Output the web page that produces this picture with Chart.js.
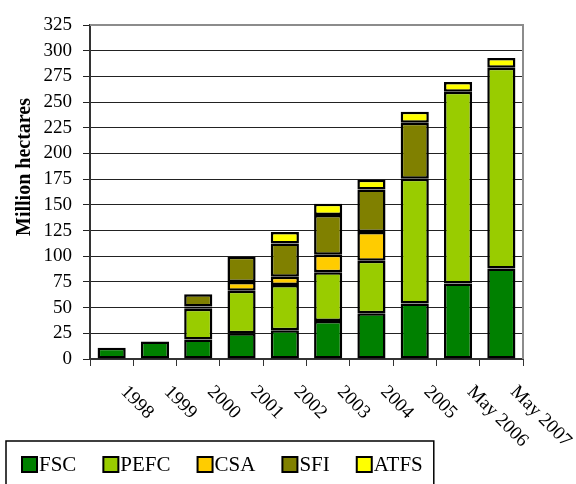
<!DOCTYPE html>
<html>
<head>
<meta charset="utf-8">
<script src="https://cdn.jsdelivr.net/npm/chart.js@4/dist/chart.umd.min.js"></script>
<style>
  body { margin: 0; background: #fff; }
</style>
</head>
<body>
<canvas id="myChart" width="576" height="484"></canvas>
<script>
const years = ["1998", "1999", "2000", "2001", "2002", "2003", "2004", "2005", "May 2006", "May 2007"];
const fsc  = [11, 17, 19, 25, 28, 37, 44.5, 54, 73.5, 88];
const pefc = [null, null, 30, 41.5, 44, 47.5, 51, 121.5, 186.5, 195.5];
const csa  = [null, null, 2, 8.5, 8, 17, 28, null, null, null];
const sfi  = [null, null, 12, 24.5, 32.5, 38.5, 41.5, 54.5, null, null];
const atfs = [null, null, null, null, 11, 11, 9.5, 10.5, 9.5, 9.5];
const yTicks = [0, 25, 50, 75, 100, 125, 150, 175, 200, 225, 250, 275, 300, 325];

const serif = "'Liberation Serif', 'DejaVu Serif', serif";

// plot border, rotated year labels, y title and boxed legend
const extras = {
  id: "extras",
  beforeDatasetsDraw(chart) {
    const ctx = chart.ctx, a = chart.chartArea;
    ctx.save();
    ctx.strokeStyle = "#8c8c8c";
    ctx.lineWidth = 2;
    ctx.beginPath();
    ctx.moveTo(a.left, a.top);
    ctx.lineTo(a.right, a.top);
    ctx.lineTo(a.right, a.bottom);
    ctx.stroke();
    ctx.restore();
  },
  afterDraw(chart) {
    const ctx = chart.ctx, a = chart.chartArea, xs = chart.scales.x;
    ctx.save();
    ctx.fillStyle = "#000";

    // x labels, going down to the right
    ctx.font = "19px " + serif;
    ctx.textAlign = "left";
    ctx.textBaseline = "middle";
    years.forEach((lab, i) => {
      ctx.save();
      ctx.translate(xs.getPixelForTick(i) + 12, a.bottom + 30);
      ctx.rotate(Math.PI / 4);
      ctx.fillText(lab, 0, 0);
      ctx.restore();
    });

    // y title
    ctx.save();
    ctx.font = "bold 20px " + serif;
    ctx.textAlign = "center";
    ctx.translate(25, 167);
    ctx.rotate(-Math.PI / 2);
    ctx.fillText("Million hectares", 0, 0);
    ctx.restore();

    // legend
    ctx.font = "21px " + serif;
    ctx.textBaseline = "middle";
    let x = 22;
    const y = 457, box = 15, gap = 27;
    chart.data.datasets.forEach(ds => {
      ctx.fillStyle = ds.backgroundColor;
      ctx.fillRect(x, y, box, box);
      ctx.strokeStyle = "#000";
      ctx.lineWidth = 2;
      ctx.strokeRect(x, y, box, box);
      ctx.fillStyle = "#000";
      ctx.fillText(ds.label, x + box + 2, y + box / 2 + 1);
      x += box + 2 + ctx.measureText(ds.label).width + gap;
    });
    ctx.strokeStyle = "#000";
    ctx.lineWidth = 1.5;
    ctx.strokeRect(6, 441, x - gap + 11 - 6, 60);
    ctx.restore();
  }
};

new Chart("myChart", {
  type: "bar",
  data: {
    labels: years,
    datasets: [
      { label: "FSC",  data: fsc,  backgroundColor: "#008000" },
      { label: "PEFC", data: pefc, backgroundColor: "#99CC00" },
      { label: "CSA",  data: csa,  backgroundColor: "#FFCC00" },
      { label: "SFI",  data: sfi,  backgroundColor: "#808000" },
      { label: "ATFS", data: atfs, backgroundColor: "#FFFF00" }
    ]
  },
  options: {
    responsive: false,
    animation: false,
    layout: { padding: { top: 25, right: 53, bottom: 0, left: 0 } },
    datasets: {
      bar: {
        borderColor: "#000",
        borderWidth: 2.5,
        borderSkipped: false,
        categoryPercentage: 1,
        barPercentage: 0.65
      }
    },
    plugins: {
      legend: { display: false },
      tooltip: { enabled: false }
    },
    scales: {
      x: {
        stacked: true,
        ticks: { display: false },
        grid: { drawOnChartArea: false, drawTicks: true, tickLength: 7, color: "#333" },
        border: { color: "#333", width: 2 },
        afterFit: s => { s.height = 125; }
      },
      y: {
        stacked: true,
        min: 0,
        max: 325,
        afterBuildTicks: s => { s.ticks = yTicks.map(v => ({ value: v })); },
        ticks: { color: "#000", padding: 11, autoSkip: false, font: { family: serif, size: 19 } },
        grid: { color: "#222", lineWidth: 1, tickLength: 7 },
        border: { color: "#333", width: 2 },
        afterFit: s => { s.width = 90; }
      }
    }
  },
  plugins: [extras]
});
</script>
</body>
</html>
